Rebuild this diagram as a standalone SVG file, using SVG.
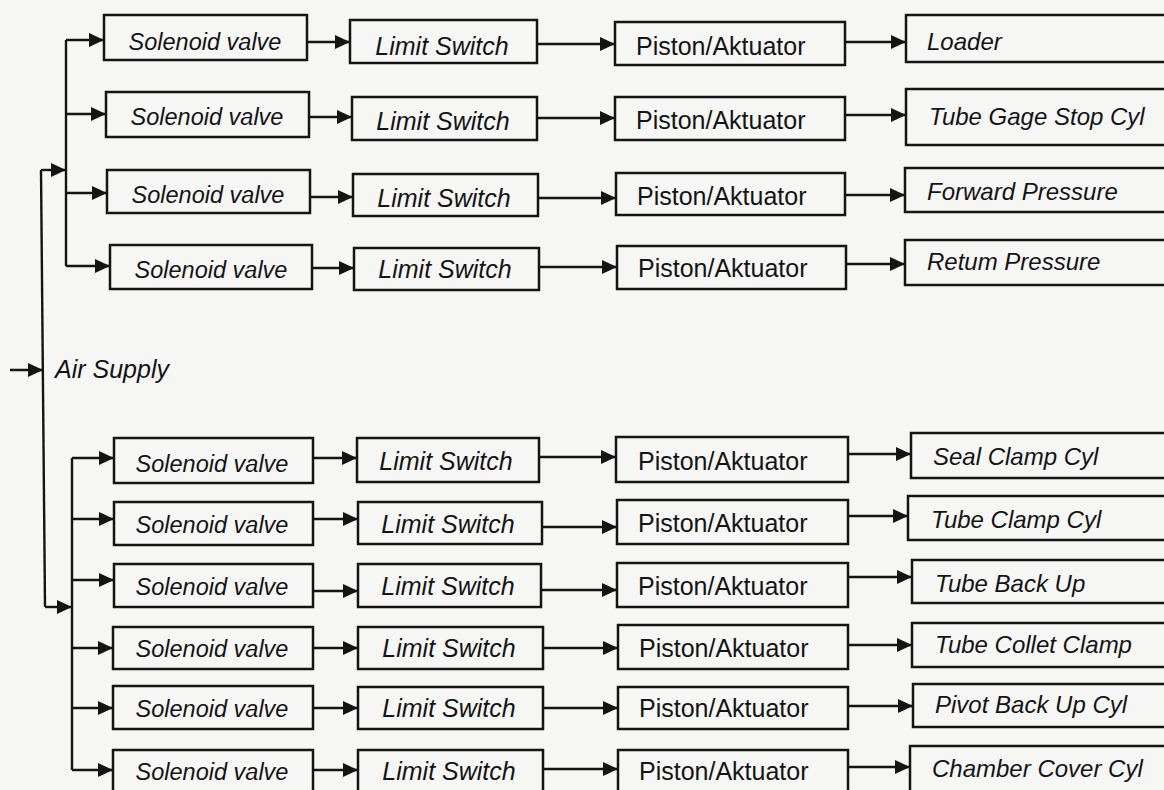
<svg xmlns="http://www.w3.org/2000/svg" width="1164" height="790" viewBox="0 0 1164 790">
<style>
.box{fill:none;stroke:#141414;stroke-width:2.5}
.ln{fill:none;stroke:#141414;stroke-width:2.4}
.ar{fill:none;stroke:#141414;stroke-width:2.4;marker-end:url(#ah)}
text{font-family:"Liberation Sans",Arial,sans-serif;fill:#141414}
.sol{font-size:23.5px;font-style:italic;text-anchor:middle}
.lim{font-size:25px;font-style:italic;text-anchor:middle}
.pis{font-size:25px}
.out{font-size:24px;font-style:italic}
.air{font-size:25px;font-style:italic}
</style>
<defs>
<marker id="ah" markerUnits="userSpaceOnUse" markerWidth="15" markerHeight="14" refX="15" refY="7" orient="auto">
<path d="M0,0 L15,7 L0,14 z" fill="#141414"/>
</marker>
</defs>
<rect x="0" y="0" width="1164" height="790" fill="#f6f6f4"/>

<g id="connectors">
<path class="ar" d="M10,370 L43,370"/>
<path class="ln" d="M41,170 L45,607"/>
<path class="ar" d="M41,170 L66,170"/>
<path class="ar" d="M45,607 L72,607"/>
<path class="ln" d="M66,40 L66,266"/>
<path class="ln" d="M72,458 L72,770"/>
<!-- top group -->
<path class="ar" d="M66,40 L104,40"/>
<path class="ar" d="M66,114 L106,114"/>
<path class="ar" d="M66,193 L107,193"/>
<path class="ar" d="M66,266 L110,266"/>
<path class="ar" d="M307,42 L350,42"/>
<path class="ar" d="M309,117 L352,117"/>
<path class="ar" d="M310,197 L353,197"/>
<path class="ar" d="M312,268 L354,268"/>
<path class="ar" d="M537,44 L615,44"/>
<path class="ar" d="M537,118 L615,118"/>
<path class="ar" d="M538,198 L616,198"/>
<path class="ar" d="M539,267 L617,267"/>
<path class="ar" d="M845,42 L906,42"/>
<path class="ar" d="M845,115 L906,115"/>
<path class="ar" d="M845,195 L905,195"/>
<path class="ar" d="M846,264 L905,264"/>
<!-- bottom group -->
<path class="ar" d="M72,458 L114,458"/>
<path class="ar" d="M72,519 L114,519"/>
<path class="ar" d="M72,580 L114,580"/>
<path class="ar" d="M72,648 L113,648"/>
<path class="ar" d="M72,708 L113,708"/>
<path class="ar" d="M72,770 L113,770"/>
<path class="ar" d="M313,458 L357,458"/>
<path class="ar" d="M313,519 L358,519"/>
<path class="ar" d="M313,591 L358,591"/>
<path class="ar" d="M313,648 L358,648"/>
<path class="ar" d="M313,708 L358,708"/>
<path class="ar" d="M313,770 L358,770"/>
<path class="ar" d="M539,457 L616,457"/>
<path class="ar" d="M542,527 L617,527"/>
<path class="ar" d="M541,590 L617,590"/>
<path class="ar" d="M543,648 L618,648"/>
<path class="ar" d="M543,708 L618,708"/>
<path class="ar" d="M543,769 L618,769"/>
<path class="ar" d="M848,454 L911,454"/>
<path class="ar" d="M848,516 L908,516"/>
<path class="ar" d="M848,577 L912,577"/>
<path class="ar" d="M848,645 L912,645"/>
<path class="ar" d="M848,706 L913,706"/>
<path class="ar" d="M848,767 L910,767"/>
</g>

<g id="air-supply"><text class="air" x="55" y="378">Air Supply</text></g>

<!-- Row 1 -->
<g id="sol1"><rect class="box" x="104" y="15" width="203" height="45"/><text class="sol" x="205" y="50">Solenoid valve</text></g>
<g id="lim1"><rect class="box" x="350" y="20" width="187" height="43"/><text class="lim" x="442" y="55">Limit Switch</text></g>
<g id="pis1"><rect class="box" x="615" y="22" width="230" height="43"/><text class="pis" x="636" y="55">Piston/Aktuator</text></g>
<g id="out1"><rect class="box" x="906" y="15" width="270" height="47"/><text class="out" x="927" y="50">Loader</text></g>
<!-- Row 2 -->
<g id="sol2"><rect class="box" x="106" y="92" width="203" height="45"/><text class="sol" x="207" y="125">Solenoid valve</text></g>
<g id="lim2"><rect class="box" x="352" y="97" width="185" height="43"/><text class="lim" x="443" y="130">Limit Switch</text></g>
<g id="pis2"><rect class="box" x="615" y="97" width="230" height="43"/><text class="pis" x="636" y="129">Piston/Aktuator</text></g>
<g id="out2"><rect class="box" x="906" y="89" width="270" height="56"/><text class="out" x="929" y="125">Tube Gage Stop Cyl</text></g>
<!-- Row 3 -->
<g id="sol3"><rect class="box" x="107" y="170" width="203" height="43"/><text class="sol" x="208" y="203">Solenoid valve</text></g>
<g id="lim3"><rect class="box" x="353" y="174" width="185" height="42"/><text class="lim" x="444" y="207">Limit Switch</text></g>
<g id="pis3"><rect class="box" x="616" y="173" width="229" height="42"/><text class="pis" x="637" y="205">Piston/Aktuator</text></g>
<g id="out3"><rect class="box" x="905" y="168" width="270" height="44"/><text class="out" x="927" y="200">Forward Pressure</text></g>
<!-- Row 4 -->
<g id="sol4"><rect class="box" x="110" y="245" width="202" height="44"/><text class="sol" x="211" y="278">Solenoid valve</text></g>
<g id="lim4"><rect class="box" x="354" y="248" width="185" height="42"/><text class="lim" x="445" y="278">Limit Switch</text></g>
<g id="pis4"><rect class="box" x="617" y="246" width="229" height="43"/><text class="pis" x="638" y="277">Piston/Aktuator</text></g>
<g id="out4"><rect class="box" x="905" y="240" width="270" height="45"/><text class="out" x="927" y="270">Retum Pressure</text></g>
<!-- Row 5 -->
<g id="sol5"><rect class="box" x="114" y="438" width="199" height="45"/><text class="sol" x="212" y="472">Solenoid valve</text></g>
<g id="lim5"><rect class="box" x="357" y="438" width="182" height="44"/><text class="lim" x="446" y="470">Limit Switch</text></g>
<g id="pis5"><rect class="box" x="616" y="437" width="232" height="45"/><text class="pis" x="638" y="470">Piston/Aktuator</text></g>
<g id="out5"><rect class="box" x="911" y="433" width="265" height="45"/><text class="out" x="933" y="465">Seal Clamp Cyl</text></g>
<!-- Row 6 -->
<g id="sol6"><rect class="box" x="114" y="502" width="199" height="43"/><text class="sol" x="212" y="533">Solenoid valve</text></g>
<g id="lim6"><rect class="box" x="358" y="502" width="184" height="42"/><text class="lim" x="448" y="533">Limit Switch</text></g>
<g id="pis6"><rect class="box" x="617" y="500" width="231" height="44"/><text class="pis" x="638" y="532">Piston/Aktuator</text></g>
<g id="out6"><rect class="box" x="908" y="496" width="268" height="44"/><text class="out" x="931" y="528">Tube Clamp Cyl</text></g>
<!-- Row 7 -->
<g id="sol7"><rect class="box" x="114" y="564" width="199" height="43"/><text class="sol" x="212" y="595">Solenoid valve</text></g>
<g id="lim7"><rect class="box" x="358" y="564" width="183" height="43"/><text class="lim" x="448" y="595">Limit Switch</text></g>
<g id="pis7"><rect class="box" x="617" y="563" width="231" height="44"/><text class="pis" x="638" y="595">Piston/Aktuator</text></g>
<g id="out7"><rect class="box" x="912" y="560" width="264" height="43"/><text class="out" x="935" y="592">Tube Back Up</text></g>
<!-- Row 8 -->
<g id="sol8"><rect class="box" x="113" y="627" width="200" height="42"/><text class="sol" x="212" y="657">Solenoid valve</text></g>
<g id="lim8"><rect class="box" x="358" y="627" width="185" height="42"/><text class="lim" x="449" y="657">Limit Switch</text></g>
<g id="pis8"><rect class="box" x="618" y="625" width="230" height="44"/><text class="pis" x="639" y="657">Piston/Aktuator</text></g>
<g id="out8"><rect class="box" x="912" y="623" width="264" height="44"/><text class="out" x="935" y="653">Tube Collet Clamp</text></g>
<!-- Row 9 -->
<g id="sol9"><rect class="box" x="113" y="686" width="200" height="43"/><text class="sol" x="212" y="717">Solenoid valve</text></g>
<g id="lim9"><rect class="box" x="358" y="687" width="185" height="42"/><text class="lim" x="449" y="717">Limit Switch</text></g>
<g id="pis9"><rect class="box" x="618" y="687" width="230" height="42"/><text class="pis" x="639" y="717">Piston/Aktuator</text></g>
<g id="out9"><rect class="box" x="913" y="684" width="263" height="43"/><text class="out" x="935" y="713">Pivot Back Up Cyl</text></g>
<!-- Row 10 -->
<g id="sol10"><rect class="box" x="113" y="750" width="200" height="50"/><text class="sol" x="212" y="780">Solenoid valve</text></g>
<g id="lim10"><rect class="box" x="358" y="750" width="185" height="50"/><text class="lim" x="449" y="780">Limit Switch</text></g>
<g id="pis10"><rect class="box" x="618" y="750" width="230" height="50"/><text class="pis" x="639" y="780">Piston/Aktuator</text></g>
<g id="out10"><rect class="box" x="910" y="746" width="266" height="50"/><text class="out" x="932" y="777">Chamber Cover Cyl</text></g>
</svg>
